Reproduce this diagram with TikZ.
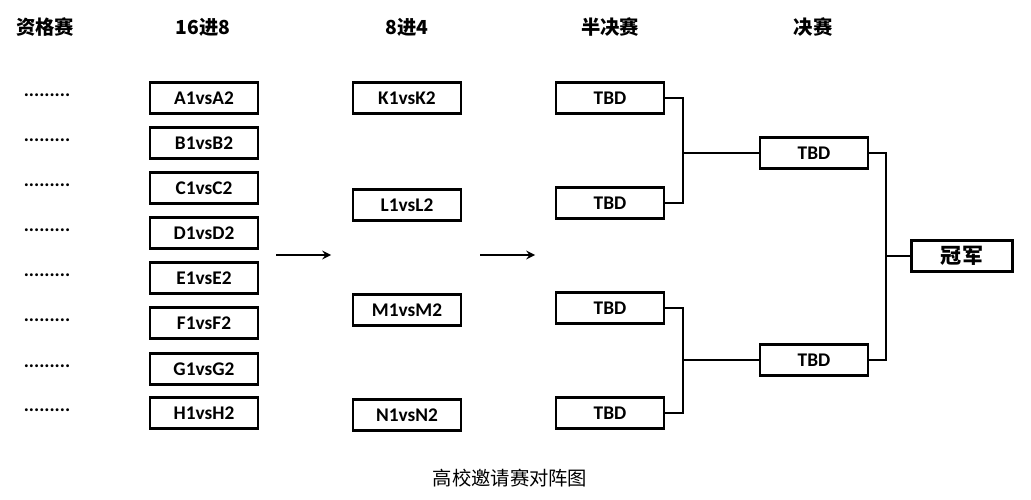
\documentclass[tikz,border=0pt]{standalone}
\usepackage{fontspec}
\setmainfont{Carlito}
\newfontfamily\cjk{Noto Sans CJK SC}
\begin{document}
\begin{tikzpicture}[x=0.02cm,y=-0.02cm,
 box/.style={draw,line width=1.2pt,minimum width=2.16cm,minimum height=0.62cm,font=\bfseries\fontsize{11}{12}\selectfont,inner sep=0pt},
 hd/.style={font=\cjk\bfseries\fontsize{11}{12}\selectfont},
 dots/.style={font=\bfseries\fontsize{11}{12}\selectfont},
 ln/.style={line width=1.2pt}]
\useasboundingbox (0,0) rectangle (1031,500);
\node[hd] (h1) at (45,27) {资格赛};
\node[hd] (h2) at (203,27) {16进8};
\node[hd] (h3) at (407,27) {8进4};
\node[hd] (h4) at (610,27) {半决赛};
\node[hd] (h5) at (813,27) {决赛};
\foreach \y/\t [count=\i] in {98/A,143/B,188/C,233/D,278/E,323/F,369/G,413/H}{
 \node[dots] (d\i) at (47,\y-3) {.........};
 \node[box] (r\i) at (204,\y) {\t1vs\t2};
}
\node[box] (q1) at (407,98) {K1vsK2};
\node[box] (q2) at (407,205) {L1vsL2};
\node[box] (q3) at (407,310) {M1vsM2};
\node[box] (q4) at (407,415) {N1vsN2};
\node[box] (s1) at (610,98) {TBD};
\node[box] (s2) at (610,203) {TBD};
\node[box] (s3) at (610,308) {TBD};
\node[box] (s4) at (610,413) {TBD};
\node[box] (f1) at (814,153) {TBD};
\node[box] (f2) at (814,360) {TBD};
\node[box,minimum width=2.02cm,font=\cjk\bfseries\fontsize{12}{13}\selectfont] (c) at (962,256) {冠军};
\coordinate (a1) at (276,255); \coordinate (a2) at (331,255);
\coordinate (a3) at (480,255); \coordinate (a4) at (535,255);
\draw[ln,-stealth] (a1) -- (a2);
\draw[ln,-stealth] (a3) -- (a4);
\draw[ln] (s1.east) -| (683,153) -- (f1.west);
\draw[ln] (s2.east) -| (683,153);
\draw[ln] (s3.east) -| (683,360) -- (f2.west);
\draw[ln] (s4.east) -| (683,360);
\draw[ln] (f1.east) -| (886,256) -- (c.west);
\draw[ln] (f2.east) -| (886,256);
\node[font=\cjk\fontsize{11}{12}\selectfont] (cap) at (510,478) {高校邀请赛对阵图};
\end{tikzpicture}
\end{document}
